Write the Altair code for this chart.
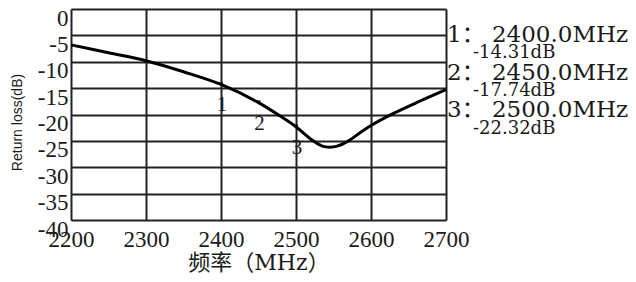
import altair as alt
import pandas as pd

# Curve values
freq = [2200, 2250, 2300, 2350, 2400, 2450, 2480, 2500, 2520, 2535, 2545, 2555, 2570, 2585, 2600, 2630, 2660, 2700]
loss = [-6.8, -8.3, -9.8, -11.9, -14.31, -17.74, -20.4, -22.32, -24.7, -26.0, -26.2, -26.0, -25.0, -23.5, -22.1, -19.8, -17.8, -15.3]

# Markers
marker_ids = ["1", "2", "3"]
marker_freq = [2400, 2450, 2500]
marker_db = [-14.31, -17.74, -22.32]

x_ticks = [2200, 2300, 2400, 2500, 2600, 2700]
y_ticks = [0, -5, -10, -15, -20, -25, -30, -35, -40]

SERIF = "Liberation Serif, 'Noto Sans CJK SC'"
WIDE = "'DejaVu Serif', 'Noto Sans CJK SC'"
TXT = "#1a1a1a"

curve_df = pd.DataFrame({"freq": freq, "loss": loss})
marker_df = pd.DataFrame({"id": marker_ids, "freq": marker_freq, "db": marker_db})

xscale = alt.Scale(domain=[2200, 2700], nice=False, zero=False)
yscale = alt.Scale(domain=[-40, 0], nice=False, zero=False)

xaxis = alt.Axis(
    values=x_ticks, title="频率（MHz）", grid=True, gridColor="#222", gridWidth=2,
    ticks=False, domain=False, labelFont=SERIF, labelFontSize=23, labelColor=TXT,
    labelPadding=8, labelBaseline="top", titleFont=WIDE, titleFontSize=22,
    titleFontWeight="normal", titleColor=TXT, titleBaseline="middle", titleY=42,
    labelFlush=False, labelOverlap=False, labelExpr="'' + datum.value",
)
yaxis = alt.Axis(
    values=y_ticks, title="Return loss(dB)", grid=True, gridColor="#222", gridWidth=2,
    ticks=False, domain=False, labelFont=SERIF, labelFontSize=23, labelColor=TXT,
    labelPadding=3, labelOffset=9, titleFont="Liberation Sans", titleFontSize=14,
    titleFontWeight="normal", titleColor=TXT, titleAngle=270, titleX=-54, titleY=113,
    titleAlign="center", titleBaseline="middle", labelFlush=False, labelOverlap=False,
    labelExpr="'' + datum.value",
)

X = alt.X("freq:Q", scale=xscale, axis=xaxis)

line = alt.Chart(curve_df).mark_line(color="black", strokeWidth=3, interpolate="catmull-rom").encode(
    x=X, y=alt.Y("loss:Q", scale=yscale, axis=yaxis),
)

arrows = alt.Chart(marker_df).mark_point(
    shape="triangle-down", filled=True, color="black", size=22, opacity=1
).encode(x=X, y=alt.Y("db:Q", scale=yscale, axis=yaxis))

labels = alt.Chart(marker_df).mark_text(
    font=SERIF, fontSize=21, color=TXT, dy=21, dx=1, baseline="middle", align="center"
).encode(x=X, y=alt.Y("db:Q", scale=yscale, axis=yaxis), text="id:N")

layers = [line, arrows, labels]

# Marker readout on the right
head_y = [33, 71, 108]
db_y = [49, 87, 125]
for i in range(len(marker_ids)):
    head = f"{marker_ids[i]}： {marker_freq[i]:.1f}MHz"
    val = f"{marker_db[i]:.2f}dB"
    layers.append(
        alt.Chart(pd.DataFrame({"t": [head]})).mark_text(
            font=WIDE, fontSize=23, color=TXT, align="left", baseline="alphabetic"
        ).encode(x=alt.value(376), y=alt.value(head_y[i]), text="t:N")
    )
    layers.append(
        alt.Chart(pd.DataFrame({"t": [val]})).mark_text(
            font=WIDE, fontSize=18, color=TXT, align="left", baseline="alphabetic"
        ).encode(x=alt.value(402), y=alt.value(db_y[i]), text="t:N")
    )

chart = alt.layer(*layers).properties(
    width=375, height=211,
    autosize=alt.AutoSizeParams(type="none"),
    padding={"left": 63, "top": 1, "right": 182, "bottom": 54},
).configure_view(stroke="black", strokeWidth=2).configure(background="white")

chart.save("out.html", embed_options={"renderer": "svg", "actions": False})
